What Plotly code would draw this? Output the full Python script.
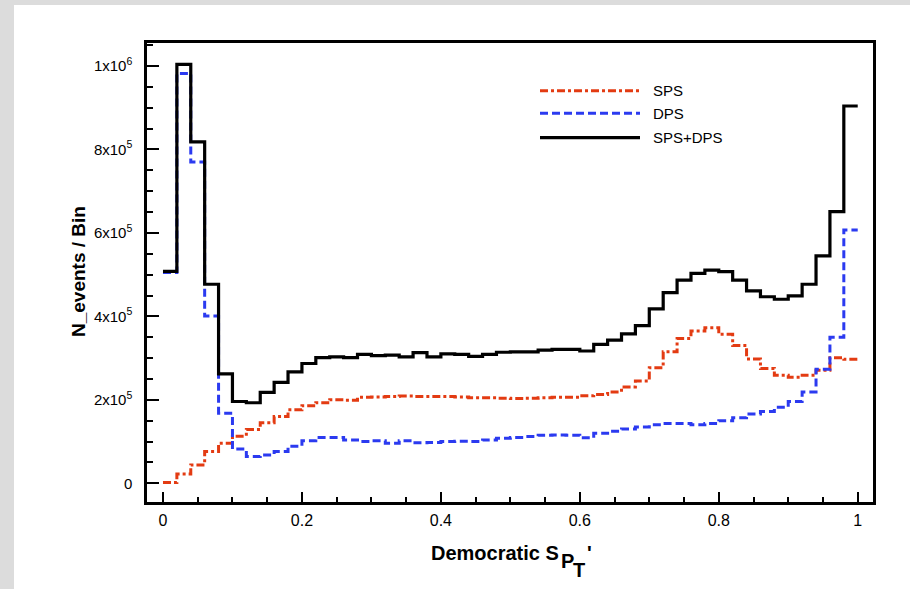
import numpy as np
import plotly.graph_objects as go

# ---------------- data (events per bin, in thousands) ----------------
n_bins = 50
bin_edges = np.round(np.linspace(0.0, 1.0, n_bins + 1), 4)

sps_k = [2, 22, 44, 76, 96, 113, 129, 145, 160, 176,
         186, 193, 200, 199, 206, 207, 208, 209, 208, 208,
         208, 207, 205, 205, 204, 203, 204, 205, 206, 206,
         210, 213, 219, 231, 245, 277, 315, 347, 365, 373,
         357, 330, 298, 275, 259, 254, 259, 271, 301, 297]

dps_k = [505, 982, 770, 401, 168, 82, 64, 68, 76, 89,
         102, 110, 110, 104, 100, 102, 96, 102, 97, 98,
         100, 101, 100, 104, 108, 110, 112, 115, 116, 115,
         109, 120, 125, 130, 135, 140, 143, 143, 140, 143,
         150, 157, 166, 172, 182, 196, 219, 273, 350, 607]

tot_k = [508, 1004, 818, 477, 262, 196, 193, 218, 242, 267,
         287, 301, 303, 301, 309, 306, 307, 303, 313, 303,
         310, 309, 304, 309, 314, 315, 315, 319, 321, 321,
         317, 333, 343, 358, 378, 418, 457, 487, 503, 511,
         507, 487, 461, 447, 441, 449, 477, 545, 651, 904]

series_names = ["SPS", "DPS", "SPS+DPS"]
y_tickvals = [0, 200000, 400000, 600000, 800000, 1000000]
y_ticktext = ["0", "2x10<sup>5</sup>", "4x10<sup>5</sup>", "6x10<sup>5</sup>",
              "8x10<sup>5</sup>", "1x10<sup>6</sup>"]
x_tickvals = [0, 0.2, 0.4, 0.6, 0.8, 1]
x_ticktext = ["0", "0.2", "0.4", "0.6", "0.8", "1"]

# ---------------- styles ----------------
RED = "#e33b12"
BLUE = "#2b3af0"
BLACK = "#000000"
FONT = "Liberation Sans, Arial, Helvetica, sans-serif"
styles = {
    "SPS": dict(color=RED, width=3, dash="8px,3px,3px,3px"),
    "DPS": dict(color=BLUE, width=3, dash="8px,4px"),
    "SPS+DPS": dict(color=BLACK, width=3.2, dash="solid"),
}

def step_y(vals_k):
    v = [x * 1000 for x in vals_k]
    return v + [v[-1]]

fig = go.Figure()
for name, vals in zip(series_names, [sps_k, dps_k, tot_k]):
    fig.add_trace(go.Scatter(
        x=list(bin_edges), y=step_y(vals), mode="lines", name=name,
        line=dict(shape="hv", **styles[name]), showlegend=False,
    ))

# plot area in pixels
L, T, R, B = 147, 43, 873, 502
W, H = 910, 589
def px(x):
    return (x - L) / (R - L)
def py(y):
    return (B - y) / (B - T)

shapes = []
annotations = []
# grey frame strips (left & top)
shapes.append(dict(type="rect", xref="paper", yref="paper", x0=px(0), x1=px(14), y0=py(W), y1=py(0),
                   fillcolor="#dcdcdc", line=dict(width=0), layer="below"))
shapes.append(dict(type="rect", xref="paper", yref="paper", x0=px(0), x1=px(W), y0=py(5), y1=py(0),
                   fillcolor="#dcdcdc", line=dict(width=0), layer="below"))

# manual legend
leg_y = [90.7, 113.3, 137.7]
for name, ly in zip(series_names, leg_y):
    st = styles[name]
    shapes.append(dict(type="line", xref="paper", yref="paper", x0=px(540), x1=px(640),
                       y0=py(ly), y1=py(ly),
                       line=dict(color=st["color"], width=st["width"], dash=st["dash"])))
    annotations.append(dict(xref="paper", yref="paper", x=px(651), y=py(ly), text=name,
                            showarrow=False, xanchor="left", yanchor="middle",
                            font=dict(family=FONT, size=15, color="black")))

# y-axis title
annotations.append(dict(xref="paper", yref="paper", x=px(78), y=py(272),
                        text="<b>N_events / Bin</b>", textangle=-90, showarrow=False,
                        xanchor="center", yanchor="middle",
                        font=dict(family=FONT, size=19, color="black")))
# x-axis title: "Democratic S" with stacked subscripts P, T and a prime
xt_font = dict(family=FONT, size=20, color="black")
annotations.append(dict(xref="paper", yref="paper", x=px(561), y=py(553), text="<b>Democratic S</b>",
                        showarrow=False, xanchor="right", yanchor="middle", font=xt_font))
annotations.append(dict(xref="paper", yref="paper", x=px(559), y=py(561), text="<b>P</b>",
                        showarrow=False, xanchor="left", yanchor="middle", font=xt_font))
annotations.append(dict(xref="paper", yref="paper", x=px(571), y=py(570), text="<b>T</b>",
                        showarrow=False, xanchor="left", yanchor="middle", font=xt_font))
annotations.append(dict(xref="paper", yref="paper", x=px(585), y=py(553), text="<b>'</b>",
                        showarrow=False, xanchor="left", yanchor="middle", font=xt_font))

fig.update_layout(
    width=W, height=H,
    margin=dict(l=L, r=W - R, t=T, b=H - B, pad=0),
    paper_bgcolor="white", plot_bgcolor="white",
    shapes=shapes, annotations=annotations,
    font=dict(family=FONT, size=15, color="black"),
    showlegend=False,
)
fig.update_xaxes(
    range=[-0.023, 1.022], showgrid=False, zeroline=False,
    showline=True, linecolor="black", linewidth=2.5, mirror=True,
    ticks="inside", ticklen=10, tickwidth=2, tickcolor="black",
    tickvals=x_tickvals, ticktext=x_ticktext,
    tickfont=dict(family=FONT, size=16), ticklabelstandoff=2,
    minor=dict(ticks="inside", ticklen=5, tickwidth=1.5, tickcolor="black", dtick=0.05, tick0=0, showgrid=False),
)
fig.update_yaxes(
    range=[-44800, 1055000], showgrid=False, zeroline=False,
    showline=True, linecolor="black", linewidth=2.5, mirror=True,
    ticks="inside", ticklen=12, tickwidth=2, tickcolor="black",
    tickvals=y_tickvals, ticktext=y_ticktext,
    tickfont=dict(family=FONT, size=15), ticklabelstandoff=9,
    minor=dict(ticks="inside", ticklen=6, tickwidth=1.5, tickcolor="black", dtick=50000, tick0=0, showgrid=False),
)

fig.write_html("out.html")
